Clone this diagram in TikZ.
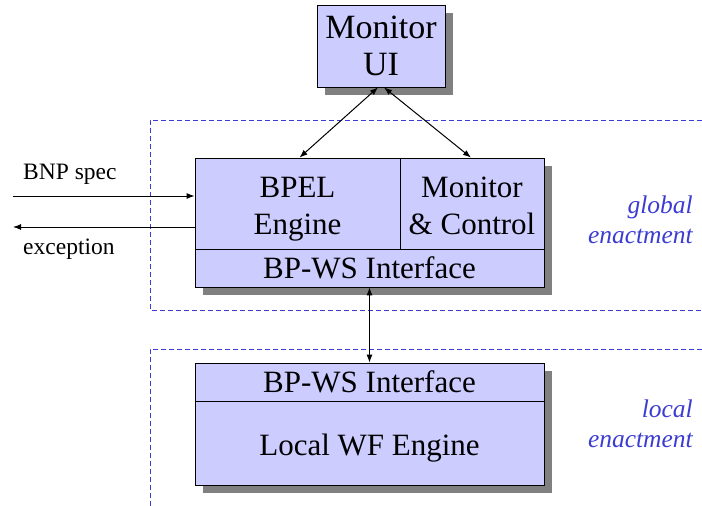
\documentclass[tikz,border=0pt]{standalone}
\usepackage{fontspec}
\setmainfont{Liberation Serif}
\usetikzlibrary{arrows.meta,backgrounds}

\definecolor{boxfill}{RGB}{204,204,255}
\definecolor{shadowgray}{RGB}{128,128,128}
\definecolor{zoneblue}{RGB}{60,60,210}

\tikzset{
  blk/.style={draw=black, fill=boxfill, line width=0.8pt, inner sep=0pt},
  boxtext/.style={inner sep=0pt, align=center, font=\fontsize{31}{37}\selectfont},
  sidetext/.style={inner sep=0pt, font=\fontsize{23.5}{28}\selectfont},
  zonetext/.style={inner sep=0pt, align=right, text=zoneblue,
                   font=\fontsize{25.5}{30}\selectfont\itshape},
  zone/.style={draw=zoneblue, line width=0.8pt, dash pattern=on 5pt off 3pt},
  link/.style={line width=1pt, {Latex[length=8pt,width=6pt]}-{Latex[length=8pt,width=6pt]}},
  flow/.style={line width=1pt, -{Latex[length=8pt,width=6pt]}},
  shade/.style={fill=shadowgray}
}

\begin{document}
\begin{tikzpicture}[x=1pt, y=-1pt]
\useasboundingbox (0,0) rectangle (702,506);

% enactment zones (dashed, open to the right)
\draw[zone] (702,120) -- (150,120) -- (150,310) -- (702,310);
\draw[zone] (702,349) -- (150,349) -- (150,506);

% monitor UI
\node[blk, minimum width=128pt, minimum height=82pt,
      font=\fontsize{34}{37}\selectfont, align=center] (ui) at (381,46) {Monitor\\UI};

% global enactment block
\node[blk, minimum width=205pt, minimum height=91pt] (bpel) at (297.5,203.5) {};
\node[blk, minimum width=144pt, minimum height=91pt] (mc) at (472,203.5) {};
\node[blk, boxtext, minimum width=349pt, minimum height=38pt] (ifg) at (369.5,268) {BP-WS Interface};
\node[boxtext] (bpeltext) at (297.5,209.6) {BPEL\\Engine};
\node[boxtext] (mctext) at (472,206) {Monitor\\\& Control};

% local enactment block
\node[blk, boxtext, minimum width=349pt, minimum height=38pt] (ifl) at (369.5,382) {BP-WS Interface};
\node[blk, minimum width=349pt, minimum height=84pt] (lwf) at (369.5,443) {};
\node[boxtext] (lwftext) at (369.5,448) {Local WF Engine};

% drop shadows
\begin{scope}[on background layer]
  \fill[shade] ([shift={(8,8)}]ui.north west) rectangle ([shift={(8,8)}]ui.south east);
  \fill[shade] ([shift={(8,8)}]bpel.north west) rectangle ([shift={(8,8)}]ifg.south east);
  \fill[shade] ([shift={(8,8)}]ifl.north west) rectangle ([shift={(8,8)}]lwf.south east);
\end{scope}

% connectors
\draw[link] ([xshift=-3pt]ui.south) -- ([xshift=2pt]bpel.north);
\draw[link] ([xshift=3pt]ui.south) -- ([xshift=-1pt]mc.north);
\draw[link] (ifg.south) -- (ifl.north);

\coordinate (specin) at (13,196);
\coordinate (excout) at (13,227);
\draw[flow] (specin) -- (specin -| bpel.west);
\draw[flow] (excout -| bpel.west) -- (excout);

% labels
\node[sidetext, anchor=base west] (speclabel) at (23,179) {BNP spec};
\node[sidetext, anchor=base west] (exclabel) at (23,254) {exception};
\node[zonetext, anchor=east] (globallabel) at (693,219.3) {global\\enactment};
\node[zonetext, anchor=east] (locallabel) at (693,423.3) {local\\enactment};
\end{tikzpicture}
\end{document}
